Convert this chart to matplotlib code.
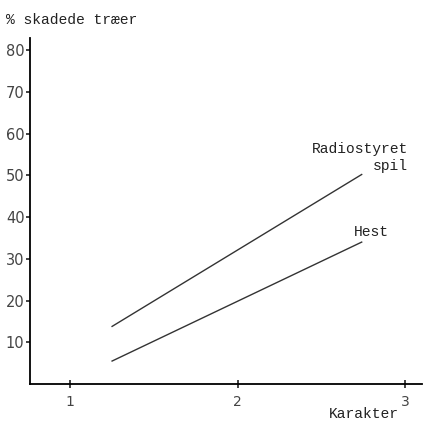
import matplotlib
matplotlib.use("Agg")
import matplotlib.pyplot as plt

# karakter vs % skadede traer
karakter = [1.25, 2.74]
radiostyret = [13.8, 50.2]
hest = [5.5, 34.0]
yticks = [10, 20, 30, 40, 50, 60, 70, 80]
xticks = [1, 2, 3]

mono = "Liberation Mono"
W, H = 424, 423

fig = plt.figure(figsize=(4.24, 4.23), dpi=100)
ax = fig.add_axes([30 / W, 39 / H, 392 / W, 346 / H])

ax.plot(karakter, radiostyret, color="#333333", lw=1.0)
ax.plot(karakter, hest, color="#333333", lw=1.0)

ax.set_xlim(0.76, 3.1)
ax.set_ylim(0, 82.9)
ax.spines["top"].set_visible(False)
ax.spines["right"].set_visible(False)
ax.spines["left"].set_linewidth(1.3)
ax.spines["bottom"].set_linewidth(1.3)

ax.set_yticks(yticks)
ax.set_xticks(xticks)
ax.tick_params(axis="y", direction="out", length=3, width=1.2, labelsize=10.5, pad=1,
               colors="#222222", labelcolor="#444444")
ax.tick_params(axis="x", direction="inout", length=6, width=1.2, labelsize=10, pad=5,
               colors="#222222", labelcolor="#444444")


def label(px, py, s, ha="right"):
    fig.text(px / W, 1 - py / H, s, ha=ha, va="center", family=mono,
             fontsize=10.5, color="#222222")


label(408, 149, "Radiostyret")
label(408, 166, "spil")
label(389, 232, "Hest")
label(6, 20, "% skadede træer", ha="left")
label(399, 414, "Karakter")

fig.savefig("out.png", dpi=100)
